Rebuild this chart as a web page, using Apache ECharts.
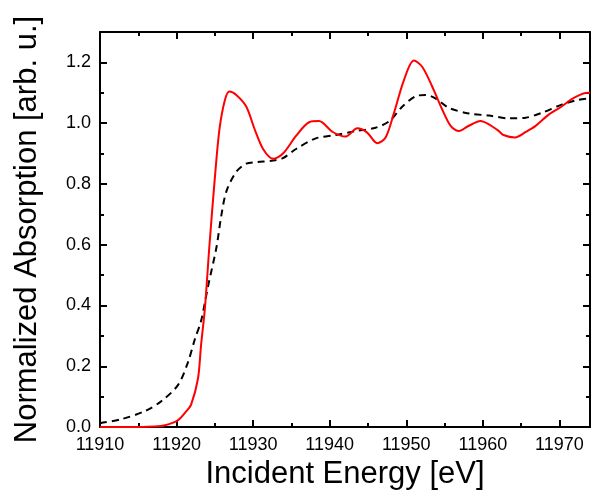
<!DOCTYPE html>
<html>
<head>
<meta charset="utf-8">
<script src="https://cdn.jsdelivr.net/npm/echarts@6/dist/echarts.min.js"></script>
<style>
  html, body { margin: 0; padding: 0; background: #fff; }
  #chart { width: 591px; height: 495px; }
</style>
</head>
<body>
<div id="chart"></div>
<script>
// measured spectrum (red, solid)
var measEnergy = [11910, 11914, 11917, 11918.5, 11920.2, 11921.2, 11921.9, 11922.8, 11923.2, 11923.7,
  11924.3, 11925.0, 11925.6, 11926.3, 11926.9, 11927.8, 11929.1, 11930.2, 11931.3, 11932.6,
  11933.9, 11935.6, 11937.3, 11938.6, 11940.4, 11942.1, 11943.6, 11944.9, 11946.2, 11947.3,
  11948.4, 11949.7, 11951.0, 11952.1, 11953.4, 11954.7, 11955.8, 11956.9, 11958.0, 11959.7,
  11961.0, 11962.1, 11962.7, 11964.2, 11965.6, 11966.9, 11968.6, 11970.3, 11971.6, 11973.4, 11974];
var measAbs = [0.000, 0.000, 0.002, 0.006, 0.023, 0.050, 0.074, 0.160, 0.270, 0.390,
  0.600, 0.820, 0.980, 1.075, 1.104, 1.093, 1.055, 0.980, 0.915, 0.883,
  0.900, 0.958, 1.003, 1.007, 0.971, 0.956, 0.983, 0.969, 0.934, 0.953,
  1.034, 1.142, 1.206, 1.185, 1.120, 1.045, 0.991, 0.974, 0.989, 1.007,
  0.993, 0.974, 0.961, 0.953, 0.971, 0.991, 1.028, 1.055, 1.079, 1.099, 1.100];

// reference spectrum (black, dashed)
var refEnergy = [11910, 11912.8, 11915.9, 11918.0, 11920.2, 11921.5, 11922.4, 11923.2, 11924.1, 11925.2,
  11925.8, 11926.5, 11927.8, 11929.1, 11930.6, 11932.6, 11933.9, 11935.6, 11938.2, 11940.8,
  11943.4, 11946.0, 11947.8, 11949.5, 11951.2, 11952.5, 11953.8, 11955.6, 11958.2, 11960.8,
  11963.4, 11965.6, 11967.7, 11970.3, 11972.5, 11974];
var refAbs = [0.013, 0.026, 0.053, 0.085, 0.139, 0.214, 0.290, 0.349, 0.462, 0.590,
  0.689, 0.775, 0.840, 0.867, 0.872, 0.877, 0.885, 0.915, 0.950, 0.961,
  0.974, 0.985, 1.007, 1.055, 1.088, 1.093, 1.082, 1.050, 1.032, 1.025,
  1.016, 1.018, 1.034, 1.061, 1.077, 1.082];

var xMin = 11910, xMax = 11974, xStep = 10;
var yMin = 0, yMax = 1.3, yStep = 0.2;

function pairs(xs, ys) {
  return xs.map(function (x, i) { return [x, ys[i]]; });
}

var font = 'Liberation Sans, Arial, sans-serif';
var lineStyle = { color: '#000', width: 2 };

function frameX(pos, main) {
  return {
    type: 'value', position: pos, min: xMin, max: xMax, interval: xStep,
    name: main ? 'Incident Energy [eV]' : '',
    nameLocation: 'middle', nameGap: 31,
    nameTextStyle: { fontFamily: font, fontSize: 31, color: '#000' },
    axisLine: { show: true, lineStyle: lineStyle, onZero: false },
    axisTick: { show: true, inside: true, length: 7, lineStyle: lineStyle },
    minorTick: { show: true, splitNumber: 2, length: 4, lineStyle: { color: '#000', width: 2 } },
    axisLabel: {
      show: main, showMaxLabel: false, margin: 9, fontFamily: font, fontSize: 18, color: '#000',
      formatter: function (v) { return String(v); }
    },
    splitLine: { show: false }
  };
}

function frameY(pos, main) {
  return {
    type: 'value', position: pos, min: yMin, max: yMax, interval: yStep,
    name: main ? 'Normalized Absorption [arb. u.]' : '',
    nameLocation: 'middle', nameGap: 57,
    nameTextStyle: { fontFamily: font, fontSize: 31, color: '#000' },
    axisLine: { show: true, lineStyle: lineStyle, onZero: false },
    axisTick: { show: true, inside: true, length: 7, lineStyle: lineStyle },
    minorTick: { show: true, splitNumber: 2, length: 4, lineStyle: { color: '#000', width: 2 } },
    axisLabel: {
      show: main, showMaxLabel: false, margin: 9, fontFamily: font, fontSize: 18, color: '#000',
      formatter: function (v) { return v.toFixed(1); }
    },
    splitLine: { show: false }
  };
}

var chart = echarts.init(document.getElementById('chart'));
chart.setOption({
  animation: false,
  backgroundColor: '#fff',
  grid: { left: 100, right: 1, top: 32, bottom: 62 },
  xAxis: [frameX('bottom', true), frameX('top', false)],
  yAxis: [frameY('left', true), frameY('right', false)],
  series: [
    {
      type: 'line', xAxisIndex: 0, yAxisIndex: 0,
      data: pairs(refEnergy, refAbs),
      showSymbol: false, smooth: 0.3, clip: true,
      lineStyle: { color: '#000', width: 2, type: [7, 5] }
    },
    {
      type: 'line', xAxisIndex: 0, yAxisIndex: 0,
      data: pairs(measEnergy, measAbs),
      showSymbol: false, smooth: 0.3, clip: true,
      lineStyle: { color: '#ff0000', width: 2 }
    }
  ]
});
</script>
</body>
</html>
